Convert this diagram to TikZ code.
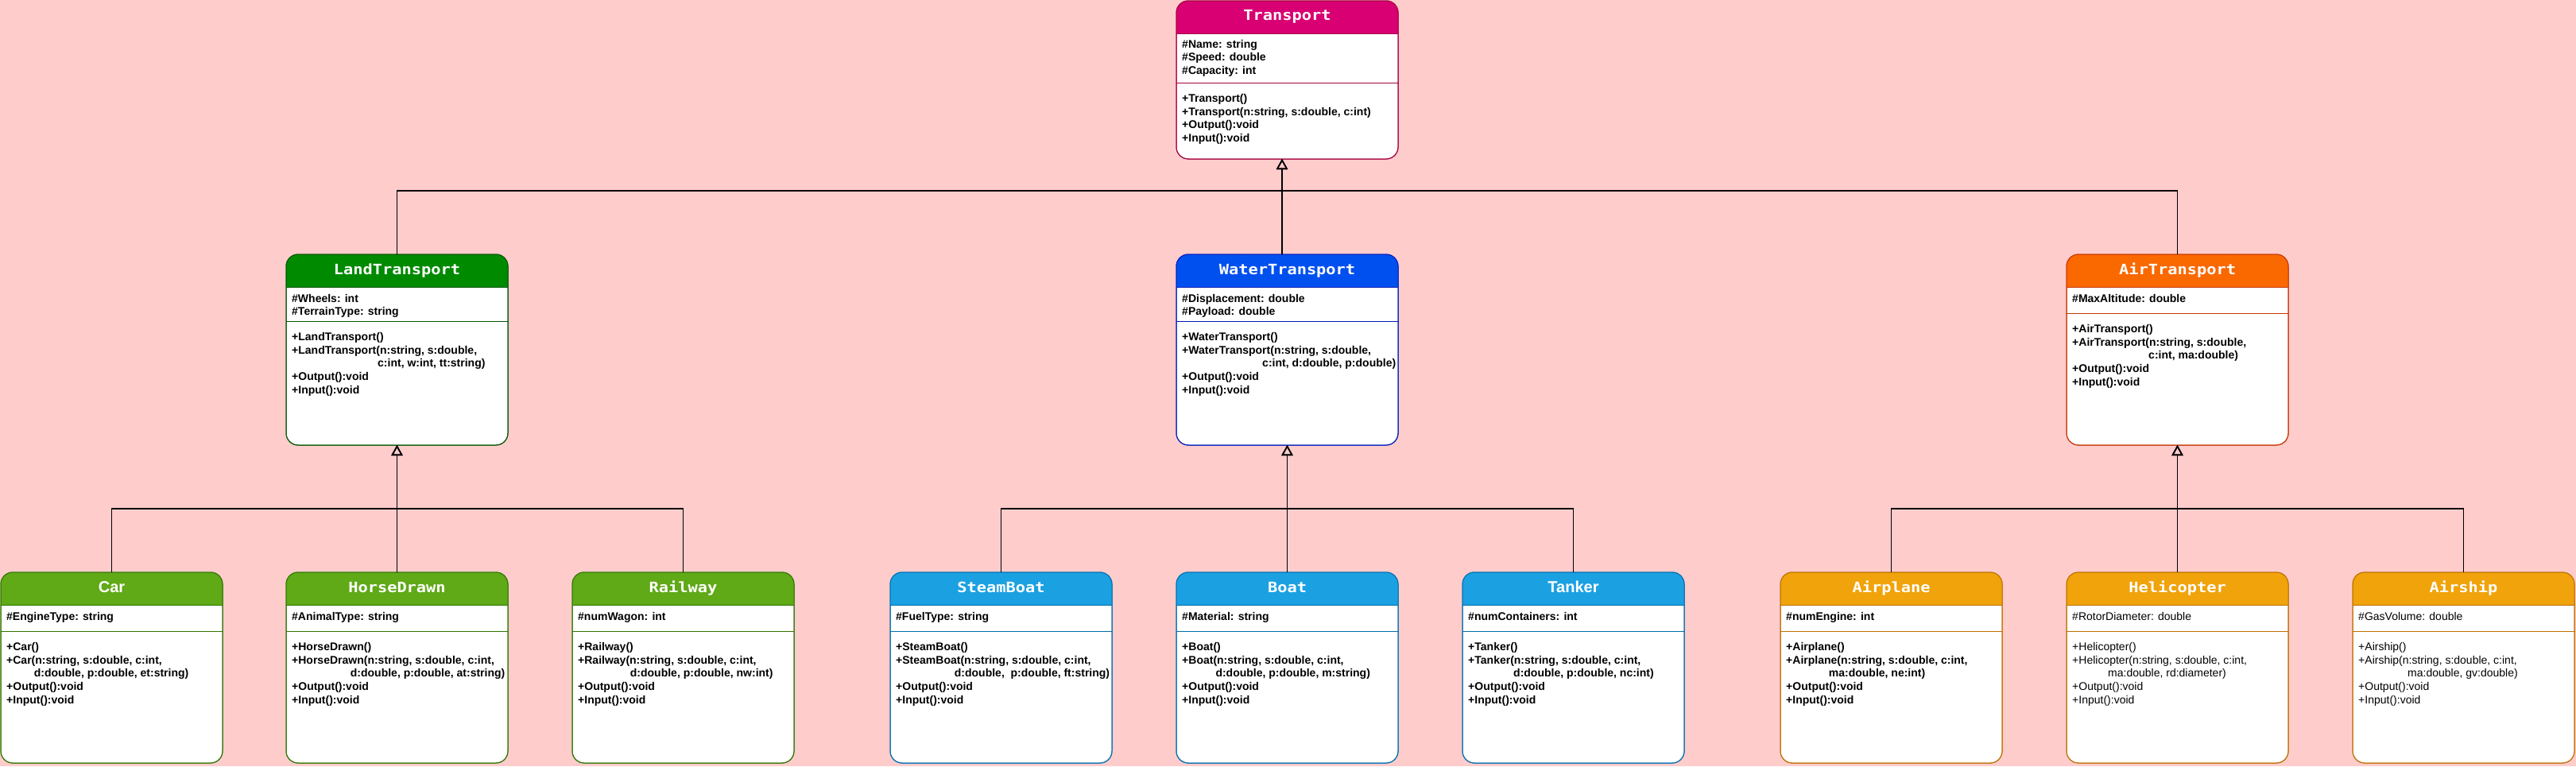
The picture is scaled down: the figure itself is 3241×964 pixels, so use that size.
\documentclass[tikz,border=0pt]{standalone}
\usepackage{fontspec}
\setmainfont{Liberation Sans}
\newfontfamily\titlemono[FakeStretch=1.13]{DejaVu Sans Mono}
\usetikzlibrary{arrows.meta}
\definecolor{bg}{HTML}{FFCCCC}
\definecolor{tfill}{HTML}{D80073}\definecolor{tstroke}{HTML}{A50040}
\definecolor{lfill}{HTML}{008A00}\definecolor{lstroke}{HTML}{005700}
\definecolor{wfill}{HTML}{0050EF}\definecolor{wstroke}{HTML}{001DBC}
\definecolor{afill}{HTML}{FA6800}\definecolor{astroke}{HTML}{C73500}
\definecolor{gfill}{HTML}{60A917}\definecolor{gstroke}{HTML}{2D7600}
\definecolor{bfill}{HTML}{1BA1E2}\definecolor{bstroke}{HTML}{006EAF}
\definecolor{ofill}{HTML}{F0A30A}\definecolor{ostroke}{HTML}{BD7000}
\tikzset{
 cbox/.style={anchor=north west, minimum width=279pt, inner sep=0pt, outer sep=0pt, fill=white, rounded corners=15pt, line width=1pt},
 txt/.style={anchor=base west, inner sep=0pt, font=\bfseries\fontsize{14pt}{16.8pt}\selectfont},
 txtreg/.style={anchor=base west, inner sep=0pt, font=\mdseries\fontsize{14pt}{16.8pt}\selectfont},
 ttl/.style={anchor=base, inner sep=0pt, text=white, font=\titlemono\bfseries\fontsize{18pt}{21pt}\selectfont},
 ttlsans/.style={anchor=base, inner sep=0pt, text=white, font=\bfseries\fontsize{20pt}{24pt}\selectfont},
 inh/.style={draw=black, line width=1.5pt, -{Triangle[open, width=14pt, length=13pt]}},
}
\newcommand\lns[1]{\parbox[t]{272pt}{#1}}
% #1 name, #2 left, #3 top, #4 height, #5 fill, #6 stroke, #7 separator offset
\newcommand\classbox[7]{%
 \node[cbox, draw=#6, minimum height=#4pt] (#1) at (#2,#3) {};
 \begin{scope}
  \clip[rounded corners=15pt] (#1.north west) rectangle (#1.south east);
  \fill[#5] (#1.north west) rectangle ([yshift=-41pt]#1.north east);
 \end{scope}
 \draw[#6, line width=1pt] ([yshift=-41pt]#1.north west) -- ([yshift=-41pt]#1.north east);
 \draw[#6, line width=1pt] ([yshift=-#7pt]#1.north west) -- ([yshift=-#7pt]#1.north east);
 \draw[#6, line width=1pt, rounded corners=15pt] (#1.north west) rectangle (#1.south east);
}
\begin{document}
\begin{tikzpicture}[x=1pt, y=-1pt]
\fill[bg] (0,0) rectangle (3241,964);
\useasboundingbox (0,0) rectangle (3241,964);

% ---------- Transport ----------
\classbox{transport}{1480}{1}{199}{tfill}{tstroke}{103}
\node[ttl] (transport-t) at ([shift={(0,24)}]transport.north) {Transport};
\node[txt] (transport-a) at ([shift={(7,59)}]transport.north west) {\lns{\#Name: string\\\#Speed: double\\\#Capacity: int}};
\node[txt] (transport-m) at ([shift={(7,127.3)}]transport.north west) {\lns{+Transport()\\+Transport(n:string, s:double, c:int)\\+Output():void\\+Input():void}};

% ---------- LandTransport ----------
\classbox{land}{360}{320}{240}{lfill}{lstroke}{84}
\node[ttl] (land-t) at ([shift={(0,25)}]land.north) {LandTransport};
\node[txt] (land-a) at ([shift={(7,60)}]land.north west) {\lns{\#Wheels: int\\\#TerrainType: string}};
\node[txt] (land-m) at ([shift={(7,108.3)}]land.north west) {\lns{+LandTransport()\\+LandTransport(n:string, s:double,\\\hspace*{108pt}c:int, w:int, tt:string)\\+Output():void\\+Input():void}};

% ---------- WaterTransport ----------
\classbox{water}{1480}{320}{240}{wfill}{wstroke}{84}
\node[ttl] (water-t) at ([shift={(0,25)}]water.north) {WaterTransport};
\node[txt] (water-a) at ([shift={(7,60)}]water.north west) {\lns{\#Displacement: double\\\#Payload: double}};
\node[txt] (water-m) at ([shift={(7,108.3)}]water.north west) {\lns{+WaterTransport()\\+WaterTransport(n:string, s:double,\\\hspace*{101pt}c:int, d:double, p:double)\\+Output():void\\+Input():void}};

% ---------- AirTransport ----------
\classbox{air}{2600}{320}{240}{afill}{astroke}{74}
\node[ttl] (air-t) at ([shift={(0,25)}]air.north) {AirTransport};
\node[txt] (air-a) at ([shift={(7,60)}]air.north west) {\lns{\#MaxAltitude: double}};
\node[txt] (air-m) at ([shift={(7,98.3)}]air.north west) {\lns{+AirTransport()\\+AirTransport(n:string, s:double,\\\hspace*{96pt}c:int, ma:double)\\+Output():void\\+Input():void}};

% ---------- Car ----------
\classbox{car}{1}{720}{240}{gfill}{gstroke}{74}
\node[ttlsans] (car-t) at ([shift={(0,25)}]car.north) {Car};
\node[txt] (car-a) at ([shift={(7,60)}]car.north west) {\lns{\#EngineType: string}};
\node[txt] (car-m) at ([shift={(7,98.3)}]car.north west) {\lns{+Car()\\+Car(n:string, s:double, c:int,\\\hspace*{34.7pt}d:double, p:double, et:string)\\+Output():void\\+Input():void}};

% ---------- HorseDrawn ----------
\classbox{horse}{360}{720}{240}{gfill}{gstroke}{74}
\node[ttl] (horse-t) at ([shift={(0,25)}]horse.north) {HorseDrawn};
\node[txt] (horse-a) at ([shift={(7,60)}]horse.north west) {\lns{\#AnimalType: string}};
\node[txt] (horse-m) at ([shift={(7,98.3)}]horse.north west) {\lns{+HorseDrawn()\\+HorseDrawn(n:string, s:double, c:int,\\\hspace*{73.7pt}d:double, p:double, at:string)\\+Output():void\\+Input():void}};

% ---------- Railway ----------
\classbox{rail}{720}{720}{240}{gfill}{gstroke}{74}
\node[ttl] (rail-t) at ([shift={(0,25)}]rail.north) {Railway};
\node[txt] (rail-a) at ([shift={(7,60)}]rail.north west) {\lns{\#numWagon: int}};
\node[txt] (rail-m) at ([shift={(7,98.3)}]rail.north west) {\lns{+Railway()\\+Railway(n:string, s:double, c:int,\\\hspace*{65.7pt}d:double, p:double, nw:int)\\+Output():void\\+Input():void}};

% ---------- SteamBoat ----------
\classbox{steam}{1120}{720}{240}{bfill}{bstroke}{74}
\node[ttl] (steam-t) at ([shift={(0,25)}]steam.north) {SteamBoat};
\node[txt] (steam-a) at ([shift={(7,60)}]steam.north west) {\lns{\#FuelType: string}};
\node[txt] (steam-m) at ([shift={(7,98.3)}]steam.north west) {\lns{+SteamBoat()\\+SteamBoat(n:string, s:double, c:int,\\\hspace*{73.7pt}d:double, \ p:double, ft:string)\\+Output():void\\+Input():void}};

% ---------- Boat ----------
\classbox{boat}{1480}{720}{240}{bfill}{bstroke}{74}
\node[ttl] (boat-t) at ([shift={(0,25)}]boat.north) {Boat};
\node[txt] (boat-a) at ([shift={(7,60)}]boat.north west) {\lns{\#Material: string}};
\node[txt] (boat-m) at ([shift={(7,98.3)}]boat.north west) {\lns{+Boat()\\+Boat(n:string, s:double, c:int,\\\hspace*{42.3pt}d:double, p:double, m:string)\\+Output():void\\+Input():void}};

% ---------- Tanker ----------
\classbox{tanker}{1840}{720}{240}{bfill}{bstroke}{74}
\node[ttlsans] (tanker-t) at ([shift={(0,25)}]tanker.north) {Tanker};
\node[txt] (tanker-a) at ([shift={(7,60)}]tanker.north west) {\lns{\#numContainers: int}};
\node[txt] (tanker-m) at ([shift={(7,98.3)}]tanker.north west) {\lns{+Tanker()\\+Tanker(n:string, s:double, c:int,\\\hspace*{57pt}d:double, p:double, nc:int)\\+Output():void\\+Input():void}};

% ---------- Airplane ----------
\classbox{plane}{2240}{720}{240}{ofill}{ostroke}{74}
\node[ttl] (plane-t) at ([shift={(0,25)}]plane.north) {Airplane};
\node[txt] (plane-a) at ([shift={(7,60)}]plane.north west) {\lns{\#numEngine: int}};
\node[txt] (plane-m) at ([shift={(7,98.3)}]plane.north west) {\lns{+Airplane()\\+Airplane(n:string, s:double, c:int,\\\hspace*{53.7pt}ma:double, ne:int)\\+Output():void\\+Input():void}};

% ---------- Helicopter ----------
\classbox{heli}{2600}{720}{240}{ofill}{ostroke}{74}
\node[ttl] (heli-t) at ([shift={(0,25)}]heli.north) {Helicopter};
\node[txtreg] (heli-a) at ([shift={(7,60)}]heli.north west) {\lns{\#RotorDiameter: double}};
\node[txtreg] (heli-m) at ([shift={(7,98.3)}]heli.north west) {\lns{+Helicopter()\\+Helicopter(n:string, s:double, c:int,\\\hspace*{45pt}ma:double, rd:diameter)\\+Output():void\\+Input():void}};

% ---------- Airship ----------
\classbox{ship}{2960}{720}{240}{ofill}{ostroke}{74}
\node[ttl] (ship-t) at ([shift={(0,25)}]ship.north) {Airship};
\node[txtreg] (ship-a) at ([shift={(7,60)}]ship.north west) {\lns{\#GasVolume: double}};
\node[txtreg] (ship-m) at ([shift={(7,98.3)}]ship.north west) {\lns{+Airship()\\+Airship(n:string, s:double, c:int,\\\hspace*{62pt}ma:double, gv:double)\\+Output():void\\+Input():void}};

% ---------- connectors ----------
\coordinate (tb) at ([xshift=-6.5pt]transport.south);
\coordinate (jt) at (tb |- 0,240);
\draw[inh] (land.north) |- (jt) -- (tb);
\draw[inh] (air.north) |- (jt) -- (tb);
\draw[inh] (tb |- water.north) -- (tb);

\coordinate (jl) at (land.south |- 0,640);
\draw[inh] (car.north) |- (jl) -- (land.south);
\draw[inh] (rail.north) |- (jl) -- (land.south);
\draw[inh] (horse.north) -- (land.south);

\coordinate (jw) at (water.south |- 0,640);
\draw[inh] (steam.north) |- (jw) -- (water.south);
\draw[inh] (tanker.north) |- (jw) -- (water.south);
\draw[inh] (boat.north) -- (water.south);

\coordinate (ja) at (air.south |- 0,640);
\draw[inh] (plane.north) |- (ja) -- (air.south);
\draw[inh] (ship.north) |- (ja) -- (air.south);
\draw[inh] (heli.north) -- (air.south);
\end{tikzpicture}
\end{document}
